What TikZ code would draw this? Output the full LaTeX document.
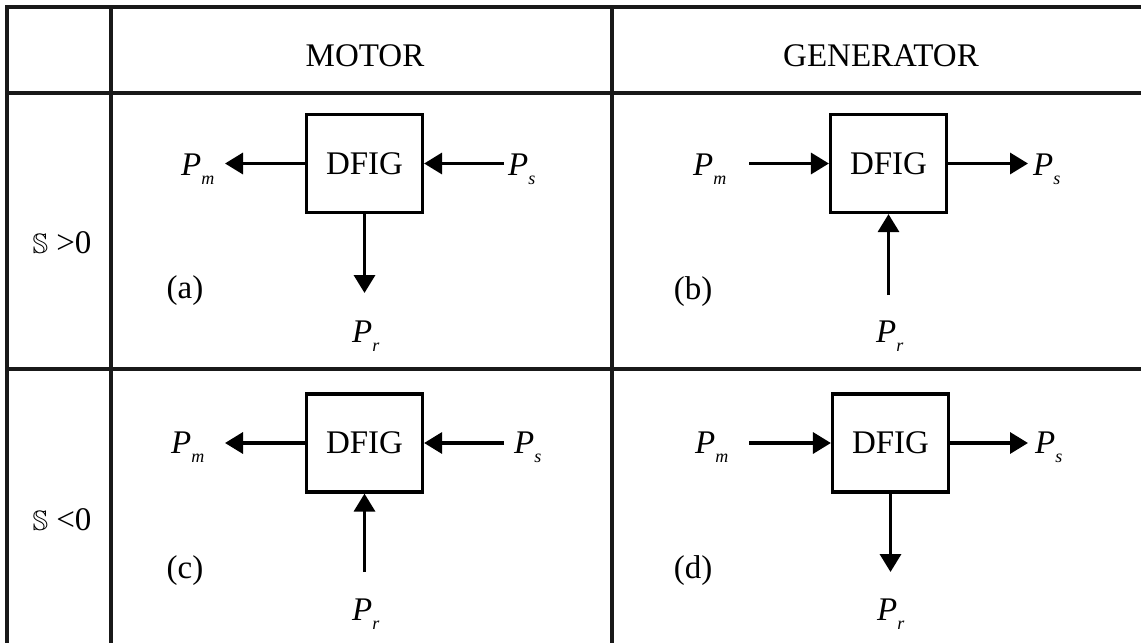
\documentclass[tikz,border=0pt]{standalone}
\usepackage{amssymb}
\usepackage{fontspec}
\setmainfont{Liberation Serif}
\usetikzlibrary{arrows.meta}
\newcommand{\Psub}[1]{\textit{P}\raisebox{-9pt}{\fontsize{18}{18}\selectfont\textit{#1}}}
\begin{document}
\begin{tikzpicture}[x=1pt,y=-1pt,
  grid/.style={line width=4pt, color=black!90},
  dfig/.style={draw, line width=3.2pt, minimum width=116pt, minimum height=98pt, inner sep=0pt,
    font=\fontsize{33}{40}\selectfont},
  arr/.style={line width=3.4pt, -{Triangle[length=18pt,width=21pt]}},
  lbl/.style={inner sep=0pt, anchor=base west, font=\fontsize{33}{40}\selectfont},
  txt/.style={inner sep=0pt, font=\fontsize{33}{40}\selectfont}]
\useasboundingbox (0,0) rectangle (1141,643);
% table
\draw[grid] (5,7) -- (1141,7);
\draw[grid] (5,93) -- (1141,93);
\draw[grid] (5,369) -- (1141,369);
\draw[grid] (7,5) -- (7,643);
\draw[grid] (111,5) -- (111,643);
\draw[grid] (612,5) -- (612,643);
% headers
\node[txt] (hm) at (365,56) {MOTOR};
\node[txt] (hg) at (881,56) {GENERATOR};
\node[txt] (r1) at (62,243) {{\fontsize{28}{30}\selectfont$\mathbb{S}$} >0};
\node[txt] (r2) at (62,520) {{\fontsize{28}{30}\selectfont$\mathbb{S}$} <0};
% (a)
\node[dfig] (dfa) at (364.5,163.5) {DFIG};
\node[lbl] (pma) at (181,175) {\Psub{m}};
\node[lbl] (psa) at (508,175) {\Psub{s}};
\node[lbl] (pra) at (352,342) {\Psub{r}};
\node[txt] (la) at (185,291) {(a)};
\coordinate (pmae) at (225,163.5);
\coordinate (psas) at (504,163.5);
\coordinate (prae) at (364.5,293);
\draw[arr] (dfa.west) -- (pmae);
\draw[arr] (psas) -- (dfa.east);
\draw[arr] (dfa.south) -- (prae);
% (b)
\node[dfig] (dfb) at (888.5,163.5) {DFIG};
\node[lbl] (pmb) at (693,175) {\Psub{m}};
\node[lbl] (psb) at (1033,175) {\Psub{s}};
\node[lbl] (prb) at (876,342) {\Psub{r}};
\node[txt] (lb) at (693,292) {(b)};
\coordinate (pmbs) at (749,163.5);
\coordinate (psbe) at (1028,163.5);
\coordinate (prbs) at (888.5,295);
\draw[arr] (pmbs) -- (dfb.west);
\draw[arr] (dfb.east) -- (psbe);
\draw[arr] (prbs) -- (dfb.south);
% (c)
\node[dfig] (dfc) at (364.5,443) {DFIG};
\node[lbl] (pmc) at (171,453) {\Psub{m}};
\node[lbl] (psc) at (514,453) {\Psub{s}};
\node[lbl] (prc) at (352,620) {\Psub{r}};
\node[txt] (lc) at (185,571) {(c)};
\coordinate (pmce) at (225,443);
\coordinate (pscs) at (504,443);
\coordinate (prcs) at (364.5,572);
\draw[arr] (dfc.west) -- (pmce);
\draw[arr] (pscs) -- (dfc.east);
\draw[arr] (prcs) -- (dfc.south);
% (d)
\node[dfig] (dfd) at (890.5,443) {DFIG};
\node[lbl] (pmd) at (695,453) {\Psub{m}};
\node[lbl] (psd) at (1035,453) {\Psub{s}};
\node[lbl] (prd) at (877,620) {\Psub{r}};
\node[txt] (ld) at (693,571) {(d)};
\coordinate (pmds) at (749,443);
\coordinate (psde) at (1028,443);
\coordinate (prde) at (890.5,572);
\draw[arr] (pmds) -- (dfd.west);
\draw[arr] (dfd.east) -- (psde);
\draw[arr] (dfd.south) -- (prde);
\end{tikzpicture}
\end{document}
